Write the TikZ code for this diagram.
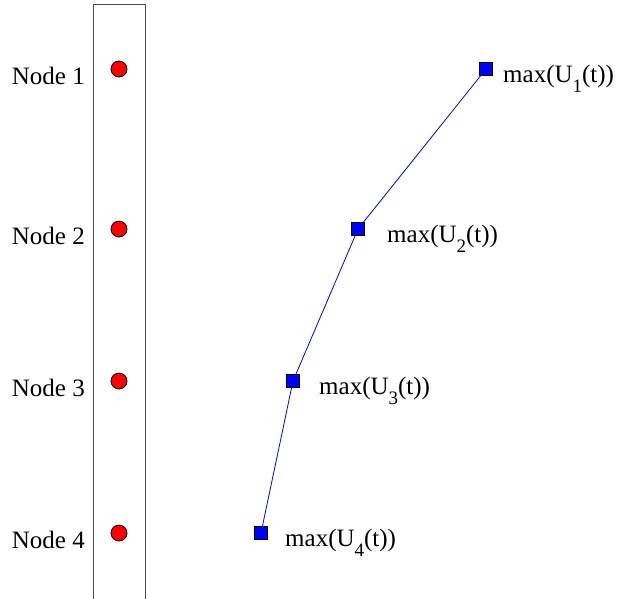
\documentclass[tikz,border=0pt]{standalone}
\usepackage{fontspec}
\setmainfont{Liberation Serif}
\begin{document}
\begin{tikzpicture}[x=1pt,y=-1pt,
  dot/.style={circle,draw=black,fill=red,line width=0.8pt,minimum size=16pt,inner sep=0pt},
  sq/.style={rectangle,draw=black,fill=blue,line width=0.8pt,minimum size=13pt,inner sep=0pt},
  lab/.style={font=\fontsize{25}{29}\selectfont,inner sep=0pt},
  link/.style={draw=blue,line width=0.8pt}]
\useasboundingbox (0,0) rectangle (617,598);
\draw[draw=black!70,line width=0.9pt] (93,604) -- (93,4) -- (145,4) -- (145,604);
\foreach \i/\y in {1/69,2/229,3/381,4/533}{
  \node[dot] (c\i) at (119,\y) {};
  \node[lab,anchor=base east] (n\i) at (85,\y+15) {Node \i};
}
\node[sq] (s1) at (486,69) {};
\node[sq] (s2) at (358,229) {};
\node[sq] (s3) at (293,381) {};
\node[sq] (s4) at (261,533) {};
\newcommand{\mylab}[1]{max(U\raisebox{-0.4em}{\fontsize{19}{19}\selectfont #1}(t))}
\node[lab,anchor=base west] (m1) at (503,82) {\mylab{1}};
\node[lab,anchor=base west] (m2) at (387,242) {\mylab{2}};
\node[lab,anchor=base west] (m3) at (319,394) {\mylab{3}};
\node[lab,anchor=base west] (m4) at (285,546) {\mylab{4}};
\draw[link] (s1) -- (s2) -- (s3) -- (s4);
\end{tikzpicture}
\end{document}
